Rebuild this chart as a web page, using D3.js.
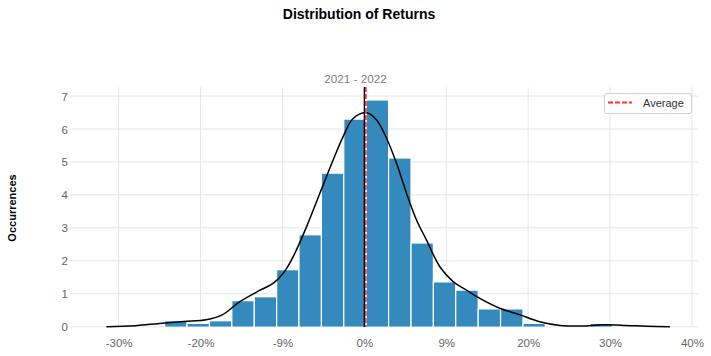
<!DOCTYPE html>
<html>
<head>
<meta charset="utf-8">
<script src="https://cdn.jsdelivr.net/npm/d3@7"></script>
<style>
  html, body { margin: 0; padding: 0; background: #fff; }
  svg { display: block; font-family: "Liberation Sans", Arial, sans-serif; }
</style>
</head>
<body>
<svg id="chart" width="711" height="356"></svg>
<script>
// ---- data ----
const binEdges = [-24.38, -21.65, -18.91, -16.18, -13.44, -10.71, -7.98, -5.24, -2.51, 0.23,
                  2.96, 5.70, 8.43, 11.16, 13.90, 16.63, 19.37, 22.10, 24.83, 27.57, 30.30];
const binValues = [0.18, 0.10, 0.18, 0.79, 0.91, 1.73, 2.79, 4.66, 6.30, 6.88,
                   5.12, 2.54, 1.36, 1.11, 0.54, 0.54, 0.10, 0, 0, 0.10];
const kdeX = [-31.5, -28, -25, -22, -19.3, -17.4, -15.2, -12.8, -11.1, -9.9, -8.7, -7.06, -5.43, -3.81,
              -2.59, -1.37, 0.27, 1.49, 2.71, 3.93, 5.15, 6.37, 7.59, 9.22, 10.84, 12.48, 14.1, 16.54,
              19.0, 21.4, 23.9, 26.5, 29.2, 32.0, 34.5, 37.3];
const kdeY = [0, 0.03, 0.10, 0.16, 0.21, 0.35, 0.76, 1.10, 1.32, 1.62, 2.12, 3.03, 4.05, 5.06,
              5.77, 6.32, 6.49, 6.27, 5.72, 4.96, 4.05, 3.24, 2.63, 1.82, 1.37, 1.11, 0.86, 0.56,
              0.36, 0.15, 0.04, 0.02, 0.06, 0.04, 0.01, 0];
const averageValue = 0.18;
const xTicks = [-30, -20, -10, 0, 10, 20, 30, 40];
const xTickLabels = ["-30%", "-20%", "-9%", "0%", "9%", "20%", "30%", "40%"];
const yTicks = [0, 1, 2, 3, 4, 5, 6, 7];
const titleText = "Distribution of Returns";
const subtitleText = "2021 - 2022";
const yLabelText = "Occurrences";
const legendText = "Average";

// ---- layout ----
const plot = { left: 70, right: 698, top: 87, bottom: 327 };
const svg = d3.select("#chart");

const x = d3.scaleLinear().domain([-35.94, 40.74]).range([plot.left, plot.right]);
const y = d3.scaleLinear().domain([0, 7.275]).range([plot.bottom - 0.3, plot.top]);

// grid
const grid = svg.append("g");
grid.selectAll("line.v").data(xTicks).join("line")
  .attr("x1", d => x(d)).attr("x2", d => x(d))
  .attr("y1", plot.top).attr("y2", plot.bottom)
  .attr("stroke", "#e5e5e5").attr("stroke-width", 1);
grid.selectAll("line.h").data(yTicks).join("line")
  .attr("x1", plot.left).attr("x2", plot.right)
  .attr("y1", d => y(d)).attr("y2", d => y(d))
  .attr("stroke", "#e5e5e5").attr("stroke-width", 1);

// bars
const bins = binValues.map((v, i) => ({ x0: binEdges[i], x1: binEdges[i + 1], v }));
svg.append("g").selectAll("rect").data(bins.filter(b => b.v > 0)).join("rect")
  .attr("x", d => x(d.x0))
  .attr("width", d => x(d.x1) - x(d.x0))
  .attr("y", d => y(d.v))
  .attr("height", d => y(0) - y(d.v) + 0.5)
  .attr("fill", "#348ABD")
  .attr("stroke", "#ffffff")
  .attr("stroke-width", 1.2);

// kde line
const line = d3.line()
  .x(d => x(d[0])).y(d => y(d[1]))
  .curve(d3.curveCatmullRom.alpha(0.5));
svg.append("path")
  .datum(kdeX.map((v, i) => [v, kdeY[i]]))
  .attr("d", line)
  .attr("fill", "none")
  .attr("stroke", "#000")
  .attr("stroke-width", 1.5);

// zero line
svg.append("line")
  .attr("x1", x(0)).attr("x2", x(0))
  .attr("y1", plot.top).attr("y2", plot.bottom)
  .attr("stroke", "#000").attr("stroke-width", 1.3);

// average line
svg.append("line")
  .attr("x1", x(averageValue)).attr("x2", x(averageValue))
  .attr("y1", plot.top).attr("y2", plot.bottom)
  .attr("stroke", "#ff3333").attr("stroke-width", 1.8)
  .attr("stroke-dasharray", "5,2");

// x axis labels
const xAxis = d3.axisBottom(x).tickValues(xTicks)
  .tickFormat((d, i) => xTickLabels[i]).tickSize(0).tickPadding(0);
const gx = svg.append("g").attr("transform", `translate(0,${plot.bottom})`).call(xAxis);
gx.select(".domain").remove();
gx.selectAll("text").attr("y", 20).attr("dy", 0)
  .attr("fill", "#666").style("font-size", "11.5px")
  .style("font-family", '"Liberation Sans", Arial, sans-serif');

// y axis labels
const yAxis = d3.axisLeft(y).tickValues(yTicks).tickFormat(d3.format("d")).tickSize(0).tickPadding(0);
const gy = svg.append("g").attr("transform", `translate(${plot.left - 2},0)`).call(yAxis);
gy.select(".domain").remove();
gy.selectAll("text").attr("dy", "0.35em")
  .attr("fill", "#666").style("font-size", "11.5px")
  .style("font-family", '"Liberation Sans", Arial, sans-serif');

// titles
svg.append("text").attr("x", 359).attr("y", 19).attr("text-anchor", "middle")
  .style("font-size", "14px").style("font-weight", "bold").attr("fill", "#000")
  .text(titleText);
svg.append("text").attr("x", 355.5).attr("y", 83).attr("text-anchor", "middle")
  .style("font-size", "11.7px").attr("fill", "#808080")
  .text(subtitleText);
svg.append("text")
  .attr("transform", "translate(16,208) rotate(-90)")
  .attr("text-anchor", "middle")
  .style("font-size", "11px").style("font-weight", "bold").attr("fill", "#000")
  .text(yLabelText);

// legend
const lg = svg.append("g");
lg.append("rect").attr("x", 604.5).attr("y", 93.5).attr("width", 87).attr("height", 20)
  .attr("rx", 2.5).attr("fill", "#fff").attr("fill-opacity", 0.8)
  .attr("stroke", "#d0d0d0").attr("stroke-width", 1);
lg.append("line").attr("x1", 608).attr("x2", 632).attr("y1", 102.5).attr("y2", 102.5)
  .attr("stroke", "#ff3333").attr("stroke-width", 1.8).attr("stroke-dasharray", "5,2");
lg.append("text").attr("x", 643).attr("y", 107).style("font-size", "11px")
  .attr("fill", "#333").text(legendText);
</script>
</body>
</html>
